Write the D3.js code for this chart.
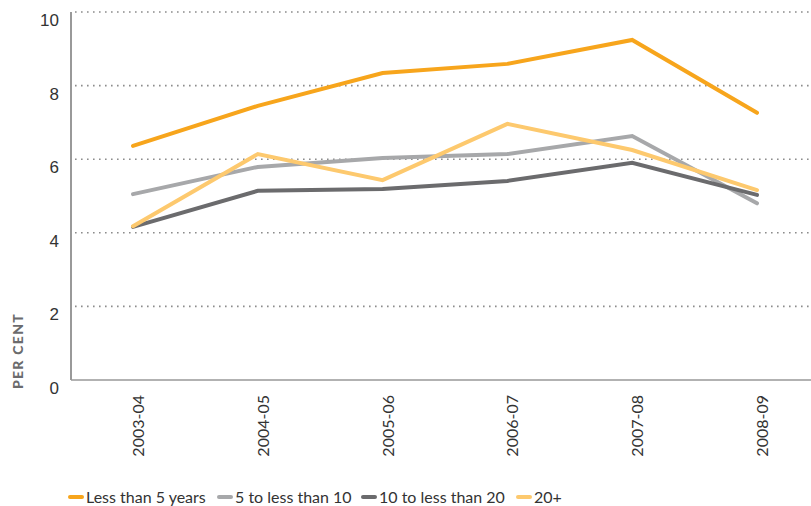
<!DOCTYPE html>
<html>
<head>
<meta charset="utf-8">
<script src="https://cdn.jsdelivr.net/npm/d3@7"></script>
<style>
  body { margin: 0; background: #fff; }
  svg { display: block; }
</style>
</head>
<body>
<div id="chart"></div>
<script>
// 数据
const years = ["2003-04", "2004-05", "2005-06", "2006-07", "2007-08", "2008-09"];
const lessThan5 = [6.36, 7.45, 8.34, 8.59, 9.24, 7.26];
const from5to10 = [5.05, 5.79, 6.03, 6.14, 6.63, 4.80];
const from10to20 = [4.16, 5.14, 5.19, 5.41, 5.90, 5.03];
const over20 = [4.18, 6.14, 5.43, 6.96, 6.25, 5.16];
const yTicks = [0, 2, 4, 6, 8, 10];
const seriesNames = ["Less than 5 years", "5 to less than 10", "10 to less than 20", "20+"];
const seriesColors = ["#f7a51c", "#a7a8aa", "#6b6b6d", "#fdc96e"];

const series = [lessThan5, from5to10, from10to20, over20].map((v, i) => ({
  name: seriesNames[i], color: seriesColors[i], values: v
}));

const W = 811, H = 506;
const margin = { top: 12, right: 0, bottom: 126, left: 71 };
const svg = d3.select("#chart").append("svg").attr("width", W).attr("height", H);

const x = d3.scalePoint().domain(years).range([133, 757]);
const y = d3.scaleLinear().domain([0, 10]).range([H - margin.bottom, margin.top]);

// 网格线(虚点)
svg.append("g").selectAll("line").data(yTicks.filter(d => d > 0)).join("line")
  .attr("x1", margin.left + 4).attr("x2", W)
  .attr("y1", d => y(d)).attr("y2", d => y(d))
  .attr("stroke", "#8c8c8c").attr("stroke-width", 1.6)
  .attr("stroke-dasharray", "1.6,4.4");

// 轴线
svg.append("line").attr("x1", margin.left).attr("x2", margin.left)
  .attr("y1", y(10)).attr("y2", y(0)).attr("stroke", "#999").attr("stroke-width", 2);
svg.append("line").attr("x1", margin.left).attr("x2", W)
  .attr("y1", y(0)).attr("y2", y(0)).attr("stroke", "#999").attr("stroke-width", 1.5);

// y 刻度
svg.append("g").selectAll("text").data(yTicks).join("text")
  .attr("x", 59).attr("y", d => y(d) + 14)
  .attr("text-anchor", "end")
  .attr("font-family", "Liberation Sans, Arial, sans-serif").attr("font-size", 17)
  .attr("fill", "#333").text(d => d);

// x 刻度 (竖排)
svg.append("g").selectAll("text").data(years).join("text")
  .attr("transform", d => `translate(${x(d) + 11},395) rotate(-90)`)
  .attr("text-anchor", "end")
  .attr("font-family", "Lato, sans-serif").attr("font-size", 16)
  .attr("fill", "#333").text(d => d);

// y 轴标题
svg.append("text")
  .attr("transform", `translate(23,351) rotate(-90)`)
  .attr("text-anchor", "middle")
  .attr("font-family", "Lato, sans-serif").attr("font-weight", "900")
  .attr("font-size", 14).attr("letter-spacing", 1.3)
  .attr("fill", "#6b6b6d").text("PER CENT");

// 折线
const line = d3.line().x((d, i) => x(years[i])).y(d => y(d));
svg.append("g").selectAll("path").data(series).join("path")
  .attr("d", d => line(d.values))
  .attr("fill", "none").attr("stroke", d => d.color)
  .attr("stroke-width", 4).attr("stroke-linecap", "round").attr("stroke-linejoin", "miter");

// 图例
const legendX = [70, 219, 363, 518];
const lg = svg.append("g").selectAll("g").data(series).join("g")
  .attr("transform", (d, i) => `translate(${legendX[i]},497)`);
lg.append("line").attr("x1", 0).attr("x2", 12).attr("y1", 0).attr("y2", 0)
  .attr("stroke", d => d.color).attr("stroke-width", 4).attr("stroke-linecap", "round");
lg.append("text").attr("x", 16).attr("y", 6)
  .attr("font-family", "Lato, sans-serif").attr("font-size", 16)
  .attr("fill", "#333").text(d => d.name);
</script>
</body>
</html>
